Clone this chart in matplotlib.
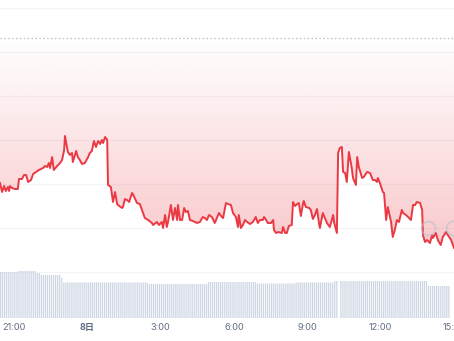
"""
plot.py

Intraday price line (below the opening reference, red with a gradient fill)
over a strip of 5-minute volume bars. Saves out.png (454x341).
"""

import numpy as np
import matplotlib
matplotlib.use('Agg')
import matplotlib.pyplot as plt
from matplotlib.colors import to_rgb


# Price samples: minutes after 20:26 (day 7) and price (chart units)
PRICE_MIN = [
    0, 5, 10, 14, 19, 22, 24, 29, 36, 43,
    46, 53, 58, 63, 68, 75, 80, 87, 94, 104,
    109, 114, 118, 121, 126, 130, 138, 145, 150, 155,
    157, 164, 169, 174, 176, 184, 188, 193, 198, 205,
    213, 217, 222, 227, 232, 237, 242, 246, 249, 254,
    259, 261, 268, 273, 278, 283, 288, 295, 297, 302,
    307, 312, 319, 321, 331, 338, 343, 350, 358, 367,
    370, 379, 384, 391, 394, 399, 403, 406, 413, 418,
    423, 428, 430, 435, 440, 445, 449, 454, 459, 466,
    476, 483, 490, 495, 500, 505, 512, 519, 524, 529,
    536, 539, 546, 551, 558, 563, 570, 575, 577, 582,
    587, 592, 597, 604, 611, 618, 623, 628, 635, 638,
    643, 647, 655, 660, 662, 667, 672, 681, 684, 689,
    693, 698, 705, 708, 713, 718, 722, 727, 732, 734,
    739, 747, 751, 756, 761, 766, 771, 773, 780, 785,
    790, 797, 805, 807, 814, 817, 821, 826, 829, 834,
    838, 843, 850, 853, 860, 863, 867, 875, 879, 887,
    894, 901, 906, 911, 913, 918, 925, 928, 933, 937,
    945, 949, 954, 959, 964, 971, 974, 981, 986, 993,
    998, 1003, 1007, 1015, 1020, 1022, 1027, 1032, 1039, 1044,
    1046, 1053, 1058, 1065, 1070, 1078, 1082, 1090, 1097,
]
PRICE = [
    133, 124, 130, 125, 129, 125, 130, 128, 127, 127,
    137, 137, 141, 141, 134, 136, 142, 144, 146, 148,
    150, 149, 153, 148, 159, 146, 150, 153, 156, 166,
    180, 164, 161, 163, 154, 165, 159, 156, 152, 153,
    159, 163, 165, 175, 169, 175, 172, 176, 173, 179,
    176, 131, 129, 114, 124, 112, 110, 108, 109, 117,
    116, 114, 123, 122, 113, 112, 106, 98, 96, 93,
    91, 94, 91, 94, 88, 101, 89, 94, 111, 96,
    108, 96, 111, 96, 96, 108, 104, 105, 96, 95,
    93, 94, 99, 98, 96, 101, 99, 93, 98, 103,
    99, 98, 113, 112, 111, 103, 99, 89, 101, 88,
    91, 96, 94, 92, 94, 99, 93, 96, 96, 99,
    96, 93, 93, 96, 86, 83, 84, 83, 89, 83,
    83, 90, 91, 114, 110, 112, 113, 100, 112, 115,
    109, 108, 106, 97, 101, 107, 92, 88, 103, 98,
    93, 89, 101, 94, 83, 163, 168, 169, 144, 143,
    134, 164, 148, 138, 131, 159, 149, 138, 139, 144,
    143, 136, 136, 134, 138, 133, 124, 123, 96, 109,
    94, 79, 86, 96, 94, 106, 103, 101, 99, 96,
    111, 111, 114, 113, 106, 81, 74, 76, 73, 81,
    78, 83, 76, 71, 79, 84, 81, 76, 68,
]
REF_PRICE = 278          # opening price (dotted reference)
GRID_STEP = 44

# Volume: run-length list of 5-minute bar heights, first bar at 20:25
VOL_LEVEL = [46, 47, 45, 43, 40, 35.5, 34, 36, 34.5, 35.5, 37, 0, 37, 32]
VOL_COUNT = [9, 9, 2, 10, 1, 42, 29, 24, 19, 19, 2, 1, 43, 11]

TICK_HOURS = [21, 24, 27, 30, 33, 36, 39]
TICK_LABELS = ['21:00', '8日', '3:00', '6:00', '9:00', '12:00', '15:00']

RED = '#ea3943'
VOL_COLOR = '#cdd5e3'
TEXT_GRAY = '#616e85'

START_H = 20 + 26 / 60
END_H = START_H + 1097 / 60

plt.rcParams['font.family'] = ['Inter', 'Noto Sans CJK JP', 'DejaVu Sans']


def draw_price(ax):
    t = START_H + np.array(PRICE_MIN) / 60
    p = np.array(PRICE, dtype=float)

    # gradient fill between the line and the reference price
    poly = ax.fill_between(t, p, REF_PRICE, color='none', lw=0)
    lo = p.min()
    v = np.linspace(lo, REF_PRICE, 256)
    rgba = np.zeros((256, 1, 4))
    rgba[..., :3] = to_rgb(RED)
    rgba[:, 0, 3] = 0.25 * (REF_PRICE - v) / 192
    im = ax.imshow(rgba, extent=[t[0], t[-1], lo, REF_PRICE], origin='lower',
                   aspect='auto', zorder=1, interpolation='bilinear')
    im.set_clip_path(poly.get_paths()[0], transform=ax.transData)

    ax.plot(t, p, color=RED, lw=1.4, zorder=3, solid_joinstyle='round')
    ax.axhline(REF_PRICE, color='#c2c2c2', lw=1.0, ls=(0, (1, 1.8)), zorder=2)

    ax.set_xlim(START_H, END_H)
    ax.set_ylim(-25, 316)
    ax.set_yticks(np.arange(GRID_STEP, 316, GRID_STEP))
    ax.set_axisbelow(True)
    ax.grid(axis='y', color='#f3f4f6', lw=0.8)
    ax.tick_params(left=False, labelleft=False, bottom=False, labelbottom=False)
    for s in ax.spines.values():
        s.set_visible(False)

    # faint watermark
    for xa in (0.943, 0.998):
        ax.plot([xa], [0.331], marker='o', ms=10, mfc='none', mec='#b8c0cf',
                mew=1.3, alpha=0.6, transform=ax.transAxes, zorder=4)


def draw_volume(ax):
    heights = np.repeat(VOL_LEVEL, VOL_COUNT)
    t = 20 + 25 / 60 + (np.arange(len(heights)) + 0.5) * 5 / 60
    bars = ax.bar(t, heights, width=0.6 * 5 / 60, color=VOL_COLOR, lw=0)
    for b in bars:
        b.set_snap(False)
    ax.set_xlim(START_H, END_H)
    ax.set_ylim(0, 60)
    ax.set_xticks(TICK_HOURS)
    ax.set_xticklabels(TICK_LABELS, fontsize=6.6, color=TEXT_GRAY)
    for lab in ax.get_xticklabels():
        if lab.get_text() == '8日':
            lab.set_fontweight('bold')
    ax.tick_params(length=0, pad=3.5, left=False, labelleft=False)
    ax.patch.set_alpha(0)
    for s in ax.spines.values():
        s.set_visible(False)


def main():
    fig = plt.figure(figsize=(4.54, 3.41), dpi=100)
    ax = fig.add_axes([0, 0, 1, 1])
    ax_vol = fig.add_axes([0, 23 / 341, 1, 60 / 341])
    draw_price(ax)
    draw_volume(ax_vol)
    fig.savefig('out.png', dpi=100)
    plt.close(fig)


if __name__ == '__main__':
    main()
